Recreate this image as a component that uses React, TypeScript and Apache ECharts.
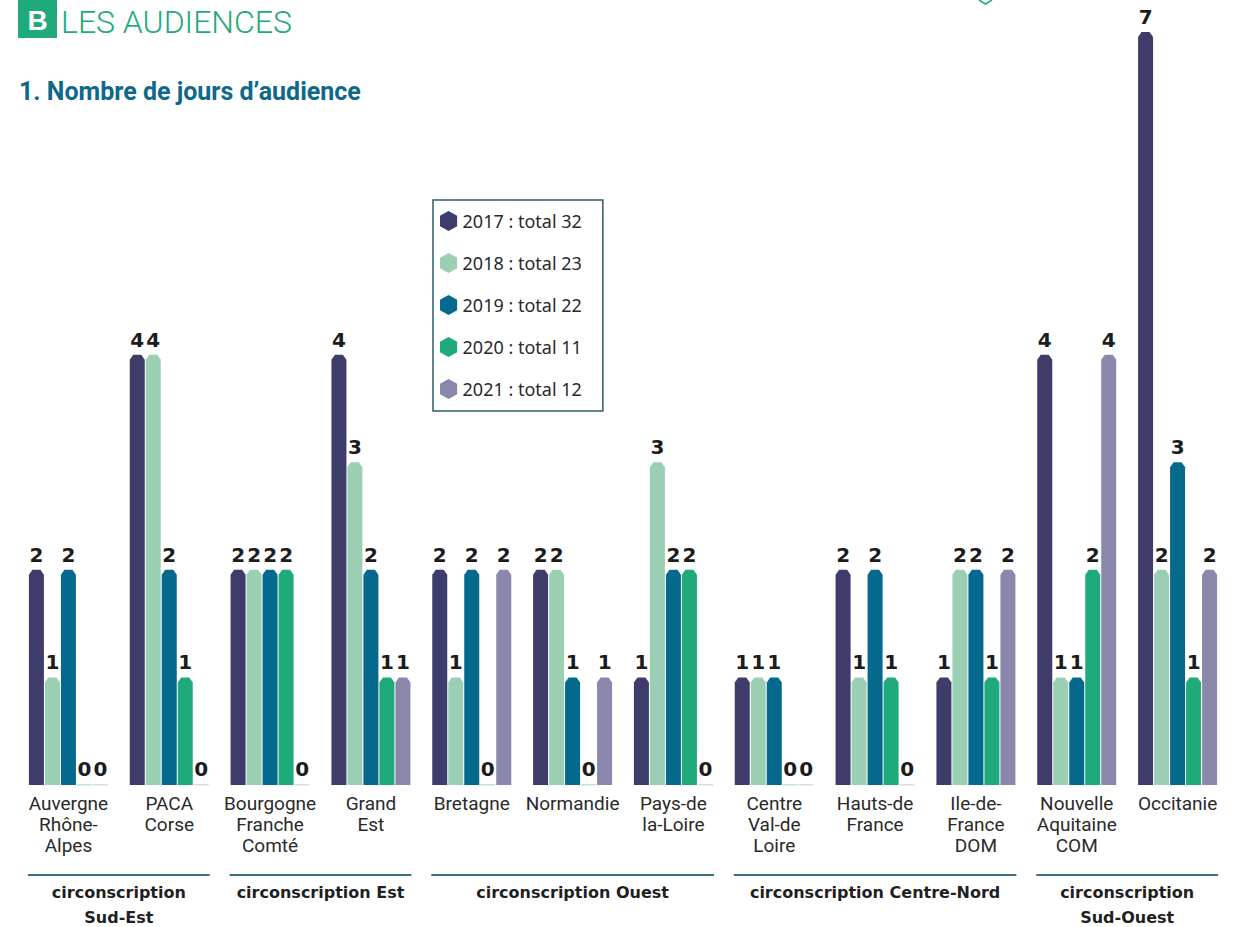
import React, { useEffect, useRef } from "react";
import * as echarts from "echarts";

const categories = [
  "Auvergne\nRhône-\nAlpes",
  "PACA\nCorse",
  "Bourgogne\nFranche\nComté",
  "Grand\nEst",
  "Bretagne",
  "Normandie",
  "Pays-de\nla-Loire",
  "Centre\nVal-de\nLoire",
  "Hauts-de\nFrance",
  "Ile-de-\nFrance\nDOM",
  "Nouvelle\nAquitaine\nCOM",
  "Occitanie",
];

const years = ["2017", "2018", "2019", "2020", "2021"];
const values2017 = [2, 4, 2, 4, 2, 2, 1, 1, 2, 1, 4, 7];
const values2018 = [1, 4, 2, 3, 1, 2, 3, 1, 1, 2, 1, 2];
const values2019 = [2, 2, 2, 2, 2, 1, 2, 1, 2, 2, 1, 3];
const values2020 = [0, 1, 2, 1, 0, 0, 2, 0, 1, 1, 2, 1];
const values2021 = [0, 0, 0, 1, 2, 1, 0, 0, 0, 2, 4, 2];
const seriesValues = [values2017, values2018, values2019, values2020, values2021];

const colors = ["#3d3c6b", "#9bcfb4", "#04698c", "#1eaa7a", "#8988ac"];

const circonscriptions = [
  { label: "circonscription\nSud-Est", from: 0, to: 1 },
  { label: "circonscription Est", from: 2, to: 3 },
  { label: "circonscription Ouest", from: 4, to: 6 },
  { label: "circonscription Centre-Nord", from: 7, to: 9 },
  { label: "circonscription\nSud-Ouest", from: 10, to: 11 },
];

const BAR_W = 15;
const STEP = 16;
const HEX = "path://M10,0 L19,5 L19,16 L10,21 L1,16 L1,5 Z";

function makeRenderItem(seriesIdx: number, color: string) {
  return (params: any, api: any) => {
    const cat = api.value(0);
    const v = api.value(1);
    const base = api.coord([cat, 0]);
    const top = api.coord([cat, v]);
    const cx = base[0] + (seriesIdx - 2) * STEP;
    const x0 = cx - BAR_W / 2;
    const x1 = cx + BAR_W / 2;
    const children: any[] = [];
    if (v > 0) {
      children.push({
        type: "polygon",
        shape: {
          points: [
            [x0, base[1]],
            [x0, top[1] + 5],
            [x0 + 3.5, top[1]],
            [x1 - 3.5, top[1]],
            [x1, top[1] + 5],
            [x1, base[1]],
          ],
        },
        style: { fill: color },
      });
    } else {
      children.push({
        type: "rect",
        shape: { x: x0, y: base[1] - 1, width: BAR_W, height: 1.5 },
        style: { fill: color, opacity: 0.3 },
      });
    }
    children.push({
      type: "text",
      x: cx,
      y: v > 0 ? top[1] - 5 : base[1] - 6,
      style: {
        text: String(v),
        align: "center",
        verticalAlign: "bottom",
        font: 'bold 20px "DejaVu Sans"',
        fill: "#1c1c1c",
      },
    });
    return { type: "group", children };
  };
}

export default function App() {
  const ref = useRef<HTMLDivElement>(null);

  useEffect(() => {
    if (!ref.current) return;
    const chart = echarts.init(ref.current, null, { renderer: "svg" });

    const totals: Record<string, number> = {};
    years.forEach((y, i) => {
      totals[y] = seriesValues[i].reduce((a, b) => a + b, 0);
    });

    const option: any = {
      animation: false,
      backgroundColor: "#ffffff",
      grid: { left: 18, top: 32, width: 1210, bottom: 142 },
      xAxis: {
        type: "category",
        data: categories,
        axisLine: { show: false },
        axisTick: { show: false },
        splitLine: { show: false },
        axisLabel: {
          interval: 0,
          margin: 8,
          color: "#2a2a2a",
          fontFamily: "Roboto, sans-serif",
          fontSize: 19,
          lineHeight: 21,
        },
      },
      yAxis: { type: "value", min: 0, max: 7, show: false, splitLine: { show: false } },
      legend: {
        orient: "vertical",
        left: 433,
        top: 200,
        padding: [11, 21, 12, 7],
        borderColor: "#2d5b6a",
        borderWidth: 1.5,
        itemWidth: 18,
        itemHeight: 20,
        itemGap: 22,
        icon: HEX,
        data: years,
        textStyle: { fontFamily: '"Noto Sans", sans-serif', fontSize: 18, color: "#2a2a2a" },
        formatter: (name: string) => `${name} : total ${totals[name]}`,
      },
      series: years.map((y, i) => ({
        type: "custom",
        name: y,
        itemStyle: { color: colors[i] },
        encode: { x: 0, y: 1 },
        data: seriesValues[i].map((v, j) => [j, v]),
        renderItem: makeRenderItem(i, colors[i]),
      })),
    };
    chart.setOption(option);

    const graphics: any[] = [
      { type: "rect", shape: { x: 18, y: 0, width: 39, height: 38 }, style: { fill: "#1eaa7a" } },
      {
        type: "text",
        x: 37.5,
        y: 20,
        style: { text: "B", font: 'bold 28px "Liberation Sans"', fill: "#ffffff", align: "center", verticalAlign: "middle" },
      },
      {
        type: "text",
        x: 61,
        y: 22,
        style: { text: "LES AUDIENCES", font: "300 32px Roboto", fill: "#1eaa7a", align: "left", verticalAlign: "middle" },
      },
      {
        type: "text",
        x: 19,
        y: 91,
        style: { text: "1. Nombre de jours d’audience", font: "bold 25px Roboto", fill: "#0d688a", align: "left", verticalAlign: "middle" },
      },
      {
        type: "polyline",
        shape: { points: [[979, 0], [985.5, 4], [992, 0]] },
        style: { stroke: "#1eaa7a", lineWidth: 1.5, fill: "none" },
      },
    ];
    circonscriptions.forEach((c) => {
      const a = chart.convertToPixel({ xAxisIndex: 0 }, c.from) as number;
      const b = chart.convertToPixel({ xAxisIndex: 0 }, c.to) as number;
      const xs = a - 39.5 - 1;
      const xe = b + 39.5 + 1;
      graphics.push({
        type: "line",
        shape: { x1: xs, y1: 875, x2: xe, y2: 875 },
        style: { stroke: "#3f6e7e", lineWidth: 2 },
      });
      graphics.push({
        type: "text",
        x: (xs + xe) / 2,
        y: 880,
        style: {
          text: c.label,
          font: 'bold 16px "DejaVu Sans"',
          lineHeight: 25,
          fill: "#1f1f1f",
          align: "center",
          verticalAlign: "top",
        },
      });
    });
    chart.setOption({ graphic: graphics });

    return () => chart.dispose();
  }, []);

  return (
    <div
      ref={ref}
      style={{ position: "absolute", left: 0, top: 0, width: 1239, height: 927, background: "#fff" }}
    />
  );
}
